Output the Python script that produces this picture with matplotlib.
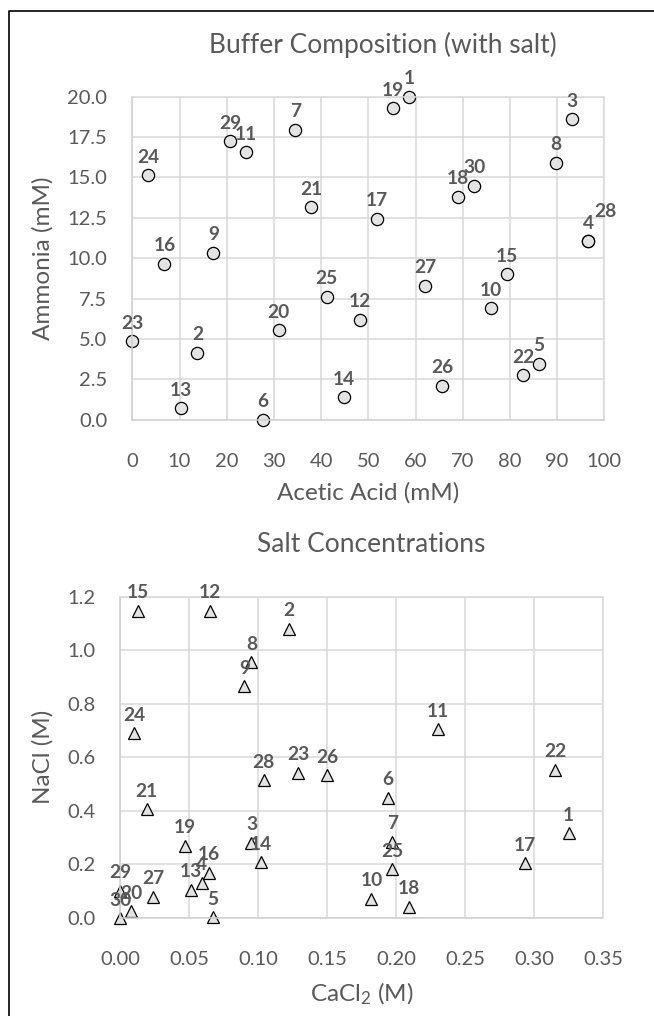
import matplotlib
matplotlib.use("Agg")
import matplotlib.pyplot as plt
from matplotlib.lines import Line2D

plt.rcParams['font.family'] = ['Lato', 'DejaVu Sans']
plt.rcParams['mathtext.fontset'] = 'custom'
plt.rcParams['mathtext.rm'] = 'Lato'
plt.rcParams['mathtext.it'] = 'Lato:italic'

# Buffer composition (with salt): acetic acid vs ammonia, mM
buffer_ids = list(range(1, 31))
acetic_acid = [58.6, 13.8, 93.2, 96.6, 86.2, 27.6, 34.5, 89.7, 17.2, 75.9,
               24.1, 48.2, 10.3, 44.8, 79.4, 6.8, 51.8, 69.0, 55.2, 31.0,
               37.9, 82.8, 0.0, 3.4, 41.2, 65.6, 62.0, 96.6, 20.7, 72.4]
ammonia = [20.0, 4.15, 18.6, 11.05, 3.45, 0.0, 17.95, 15.9, 10.35, 6.9,
           16.55, 6.2, 0.7, 1.4, 9.0, 9.65, 12.45, 13.8, 19.3, 5.55,
           13.15, 2.75, 4.85, 15.15, 7.6, 2.1, 8.3, 11.05, 17.25, 14.5]

# Salt concentrations: CaCl2 vs NaCl, M
cacl2 = [0.325, 0.122, 0.095, 0.059, 0.067, 0.194, 0.197, 0.095, 0.090, 0.182,
         0.230, 0.065, 0.051, 0.102, 0.013, 0.064, 0.293, 0.209, 0.047, 0.008,
         0.019, 0.315, 0.129, 0.010, 0.197, 0.150, 0.024, 0.104, 0.000, 0.000]
nacl = [0.316, 1.080, 0.281, 0.132, 0.003, 0.449, 0.285, 0.956, 0.865, 0.072,
        0.705, 1.148, 0.105, 0.209, 1.148, 0.169, 0.204, 0.042, 0.270, 0.026,
        0.406, 0.553, 0.543, 0.690, 0.182, 0.533, 0.080, 0.514, 0.102, 0.000]

x_ticks_top = [0, 10, 20, 30, 40, 50, 60, 70, 80, 90, 100]
y_ticks_top = [0.0, 2.5, 5.0, 7.5, 10.0, 12.5, 15.0, 17.5, 20.0]
x_ticks_bot = [0.00, 0.05, 0.10, 0.15, 0.20, 0.25, 0.30, 0.35]
y_ticks_bot = [0.0, 0.2, 0.4, 0.6, 0.8, 1.0, 1.2]

W, H = 654, 1016
TXT = '#595959'
GRID = '#d9d9d9'
FILL = '#e3e3e3'

fig = plt.figure(figsize=(W / 100, H / 100), dpi=100)
fig.patch.set_facecolor('white')


def px_axes(left, top, right, bottom):
    return fig.add_axes([left / W, 1 - bottom / H, (right - left) / W, (bottom - top) / H])


def style(ax, xt, yt, xfmt, yfmt, xpad, ypad):
    ax.set_xticks(xt)
    ax.set_yticks(yt)
    ax.set_xticklabels([xfmt.format(v) for v in xt])
    ax.set_yticklabels([yfmt.format(v) for v in yt])
    ax.set_xlim(xt[0], xt[-1])
    ax.set_ylim(yt[0], yt[-1])
    ax.grid(True, color=GRID, linewidth=1.1)
    ax.set_axisbelow(True)
    for s in ax.spines.values():
        s.set_color(GRID)
        s.set_linewidth(1.1)
    ax.spines['bottom'].set_color('#cfcfcf')
    ax.spines['left'].set_color('#cfcfcf')
    ax.tick_params(length=0, labelsize=14.5, labelcolor=TXT)
    ax.tick_params(axis='x', pad=xpad)
    ax.tick_params(axis='y', pad=ypad)


def labels(ax, ids, xs, ys, special=None):
    special = special or {}
    for i, x, y in zip(ids, xs, ys):
        off = special.get(i, (0, 18))
        ax.annotate(str(i), (x, y), xytext=off, textcoords='offset pixels',
                    ha='center', va='center', fontsize=13.8, fontweight='bold',
                    color=TXT, annotation_clip=False)


# top panel
ax1 = px_axes(132.3, 96.7, 604.3, 419.7)
style(ax1, x_ticks_top, y_ticks_top, '{:d}', '{:.1f}', 24, 18)
ax1.plot(acetic_acid, ammonia, linestyle='none', marker='o', markersize=8.8,
         markerfacecolor=FILL, markeredgecolor='black', markeredgewidth=0.9,
         clip_on=False)
labels(ax1, buffer_ids, acetic_acid, ammonia, special={28: (17, 30)})
ax1.set_xlabel('Acetic Acid (mM)', fontsize=17.5, color=TXT, labelpad=9)
ax1.set_ylabel('Ammonia (mM)', fontsize=17.5, color=TXT, labelpad=10)
fig.text(383 / W, 1 - 45 / H, 'Buffer Composition (with salt)', ha='center',
         va='center', fontsize=19, color=TXT)

# bottom panel
ax2 = px_axes(120.3, 596.7, 603.3, 918.0)
style(ax2, x_ticks_bot, y_ticks_bot, '{:.2f}', '{:.1f}', 24, 18)
ax2.plot(cacl2, nacl, linestyle='none', marker='^', markersize=8.6,
         markerfacecolor=FILL, markeredgecolor='black', markeredgewidth=0.9,
         clip_on=False)
labels(ax2, buffer_ids, cacl2, nacl)
ax2.set_xlabel('CaCl$_2$ (M)', fontsize=17.5, color=TXT, labelpad=9)
ax2.set_ylabel('NaCl (M)', fontsize=17.5, color=TXT, labelpad=10)
fig.text(371 / W, 1 - 545 / H, 'Salt Concentrations', ha='center',
         va='center', fontsize=19, color=TXT)

# outer frame (left and top edges)
fx = 8.5 / W
fy = 1 - 10.5 / H
fig.add_artist(Line2D([fx, fx, 1.0], [0.0, fy, fy], transform=fig.transFigure,
                      color='black', linewidth=1.2))

fig.savefig('out.png', dpi=100, facecolor='white')
